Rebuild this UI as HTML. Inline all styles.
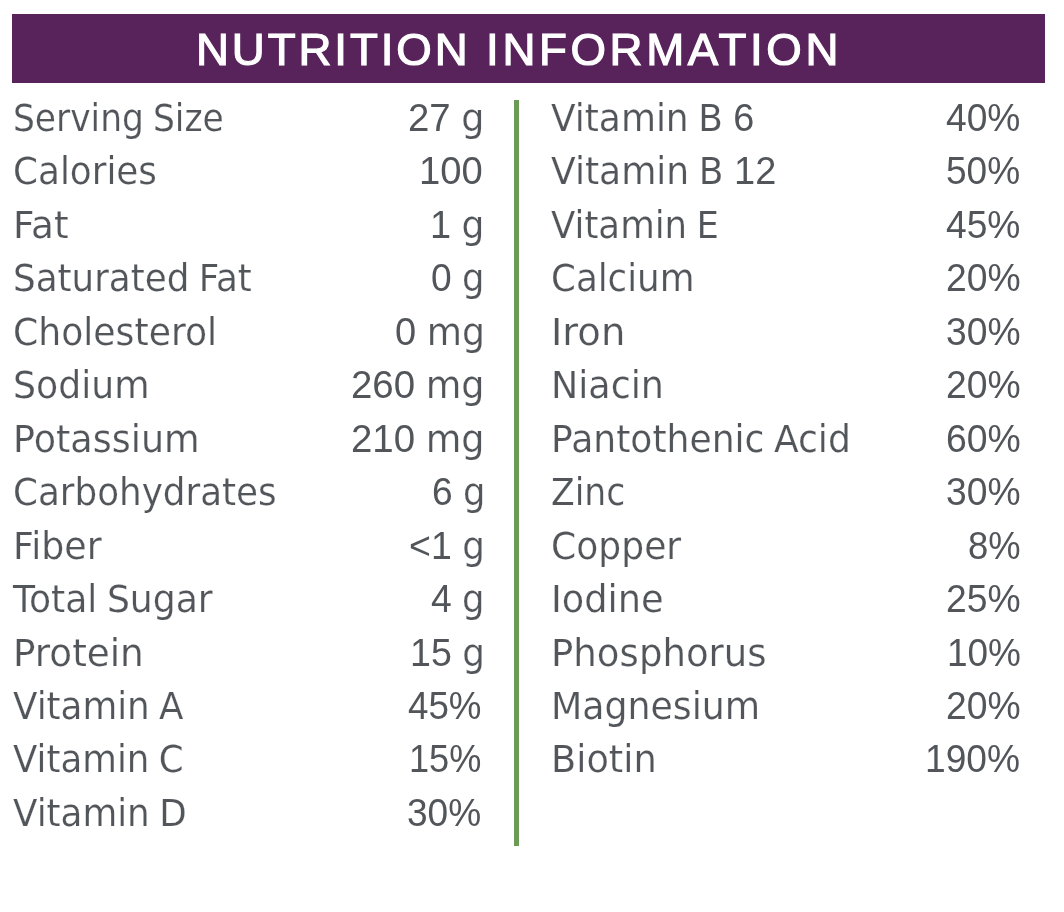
<!DOCTYPE html>
<html lang="en">
<head>
<meta charset="utf-8">
<title>Nutrition Information</title>
<style>
html,body{margin:0;padding:0;background:#fff;}
body{width:1064px;height:912px;position:relative;overflow:hidden;font-family:"Liberation Sans",sans-serif;}
.banner{position:absolute;left:12px;top:14px;width:1033px;height:68.6px;background:#57235a;}
.title{position:absolute;white-space:nowrap;color:#fff;font-weight:400;transform-origin:0 0;line-height:80px;height:80px;-webkit-text-stroke:1.2px #fff;margin:0;}
.rule{position:absolute;left:514px;top:100.4px;width:4.9px;height:745.3px;background:#6b9b54;}
.t{position:absolute;white-space:nowrap;color:#52565a;font-family:"Liberation Sans",sans-serif;font-size:39.1px;line-height:60px;height:60px;transform-origin:0 0;}
.t b{font-weight:400;word-spacing:-2px;-webkit-text-stroke:0.18px #fff;font-family:"DejaVu Sans","Liberation Sans",sans-serif;font-size:37.15px;}

</style>
</head>
<body>
<div class="banner"></div>
<h1 class="title" style="left:195.98px;top:9.95px;font-size:44.3px;word-spacing:2.78px;transform:scaleX(1.0300)"><span style="letter-spacing:2.82px">NUTRITION</span> <span style="letter-spacing:3.53px">INFORMATION</span></h1>
<section class="col" aria-label="Nutrition facts, left column">
<div class="t k" style="left:12.95px;top:88px;transform:scaleX(0.9276)"><b>Serving Size</b></div>
<div class="t v" style="left:407.98px;top:88px;transform:scaleX(0.9815)">27 <b>g</b></div>
<div class="t k" style="left:12.95px;top:141px;transform:scaleX(0.9629)"><b>Calories</b></div>
<div class="t v" style="left:419.32px;top:141px;transform:scaleX(0.9780)">100</div>
<div class="t k" style="left:12.95px;top:195px;transform:scaleX(1.0047)"><b>Fat</b></div>
<div class="t v" style="left:430.28px;top:195px;transform:scaleX(0.9696)">1 <b>g</b></div>
<div class="t k" style="left:12.95px;top:248px;transform:scaleX(0.9611)"><b>Saturated Fat</b></div>
<div class="t v" style="left:431.02px;top:248px;transform:scaleX(0.9512)">0 <b>g</b></div>
<div class="t k" style="left:12.95px;top:302px;transform:scaleX(0.9738)"><b>Cholesterol</b></div>
<div class="t v" style="left:394.84px;top:302px;transform:scaleX(0.9733)">0 <b>mg</b></div>
<div class="t k" style="left:12.95px;top:355px;transform:scaleX(0.9751)"><b>Sodium</b></div>
<div class="t v" style="left:351.41px;top:355px;transform:scaleX(0.9833)">260 <b>mg</b></div>
<div class="t k" style="left:12.95px;top:409px;transform:scaleX(0.9829)"><b>Potassium</b></div>
<div class="t v" style="left:351.41px;top:409px;transform:scaleX(0.9833)">210 <b>mg</b></div>
<div class="t k" style="left:12.95px;top:462px;transform:scaleX(0.9617)"><b>Carbohydrates</b></div>
<div class="t v" style="left:431.69px;top:462px;transform:scaleX(0.9503)">6 <b>g</b></div>
<div class="t k" style="left:12.95px;top:516px;transform:scaleX(0.9773)"><b>Fiber</b></div>
<div class="t v" style="left:408.83px;top:516px;transform:scaleX(0.9587)">&lt;1 <b>g</b></div>
<div class="t k" style="left:12.95px;top:569px;transform:scaleX(0.9728)"><b>Total Sugar</b></div>
<div class="t v" style="left:430.79px;top:569px;transform:scaleX(0.9532)">4 <b>g</b></div>
<div class="t k" style="left:12.95px;top:623px;transform:scaleX(1.0044)"><b>Protein</b></div>
<div class="t v" style="left:409.68px;top:623px;transform:scaleX(0.9611)">15 <b>g</b></div>
<div class="t k" style="left:12.95px;top:676px;transform:scaleX(0.9608)"><b>Vitamin A</b></div>
<div class="t v" style="left:407.61px;top:676px;transform:scaleX(0.9398)">45%</div>
<div class="t k" style="left:12.95px;top:729px;transform:scaleX(0.9584)"><b>Vitamin C</b></div>
<div class="t v" style="left:408.89px;top:729px;transform:scaleX(0.9244)">15%</div>
<div class="t k" style="left:12.95px;top:783px;transform:scaleX(0.9611)"><b>Vitamin D</b></div>
<div class="t v" style="left:406.94px;top:783px;transform:scaleX(0.9487)">30%</div>
</section>
<div class="rule"></div>
<section class="col" aria-label="Nutrition facts, right column">
<div class="t k" style="left:551px;top:88px;transform:scaleX(0.9675)"><b>Vitamin B</b> 6</div>
<div class="t v" style="left:945.79px;top:88px;transform:scaleX(0.9507)">40%</div>
<div class="t k" style="left:551px;top:141px;transform:scaleX(0.9717)"><b>Vitamin B</b> 12</div>
<div class="t v" style="left:946.37px;top:141px;transform:scaleX(0.9479)">50%</div>
<div class="t k" style="left:551px;top:195px;transform:scaleX(0.9570)"><b>Vitamin E</b></div>
<div class="t v" style="left:945.79px;top:195px;transform:scaleX(0.9507)">45%</div>
<div class="t k" style="left:551px;top:248px;transform:scaleX(0.9595)"><b>Calcium</b></div>
<div class="t v" style="left:945.81px;top:248px;transform:scaleX(0.9541)">20%</div>
<div class="t k" style="left:551px;top:302px;transform:scaleX(1.0368)"><b>Iron</b></div>
<div class="t v" style="left:945.54px;top:302px;transform:scaleX(0.9534)">30%</div>
<div class="t k" style="left:551px;top:355px;transform:scaleX(0.9800)"><b>Niacin</b></div>
<div class="t v" style="left:945.81px;top:355px;transform:scaleX(0.9541)">20%</div>
<div class="t k" style="left:551px;top:409px;transform:scaleX(0.9721)"><b>Pantothenic Acid</b></div>
<div class="t v" style="left:945.6px;top:409px;transform:scaleX(0.9557)">60%</div>
<div class="t k" style="left:551px;top:462px;transform:scaleX(0.9309)"><b>Zinc</b></div>
<div class="t v" style="left:945.54px;top:462px;transform:scaleX(0.9534)">30%</div>
<div class="t k" style="left:551px;top:516px;transform:scaleX(0.9721)"><b>Copper</b></div>
<div class="t v" style="left:967.57px;top:516px;transform:scaleX(0.9310)">8%</div>
<div class="t k" style="left:551px;top:569px;transform:scaleX(0.9886)"><b>Iodine</b></div>
<div class="t v" style="left:945.81px;top:569px;transform:scaleX(0.9541)">25%</div>
<div class="t k" style="left:551px;top:623px;transform:scaleX(0.9985)"><b>Phosphorus</b></div>
<div class="t v" style="left:946.85px;top:623px;transform:scaleX(0.9450)">10%</div>
<div class="t k" style="left:551px;top:676px;transform:scaleX(0.9767)"><b>Magnesium</b></div>
<div class="t v" style="left:945.81px;top:676px;transform:scaleX(0.9541)">20%</div>
<div class="t k" style="left:551px;top:729px;transform:scaleX(0.9884)"><b>Biotin</b></div>
<div class="t v" style="left:925.14px;top:729px;transform:scaleX(0.9505)">190%</div>
</section>
</body>
</html>
